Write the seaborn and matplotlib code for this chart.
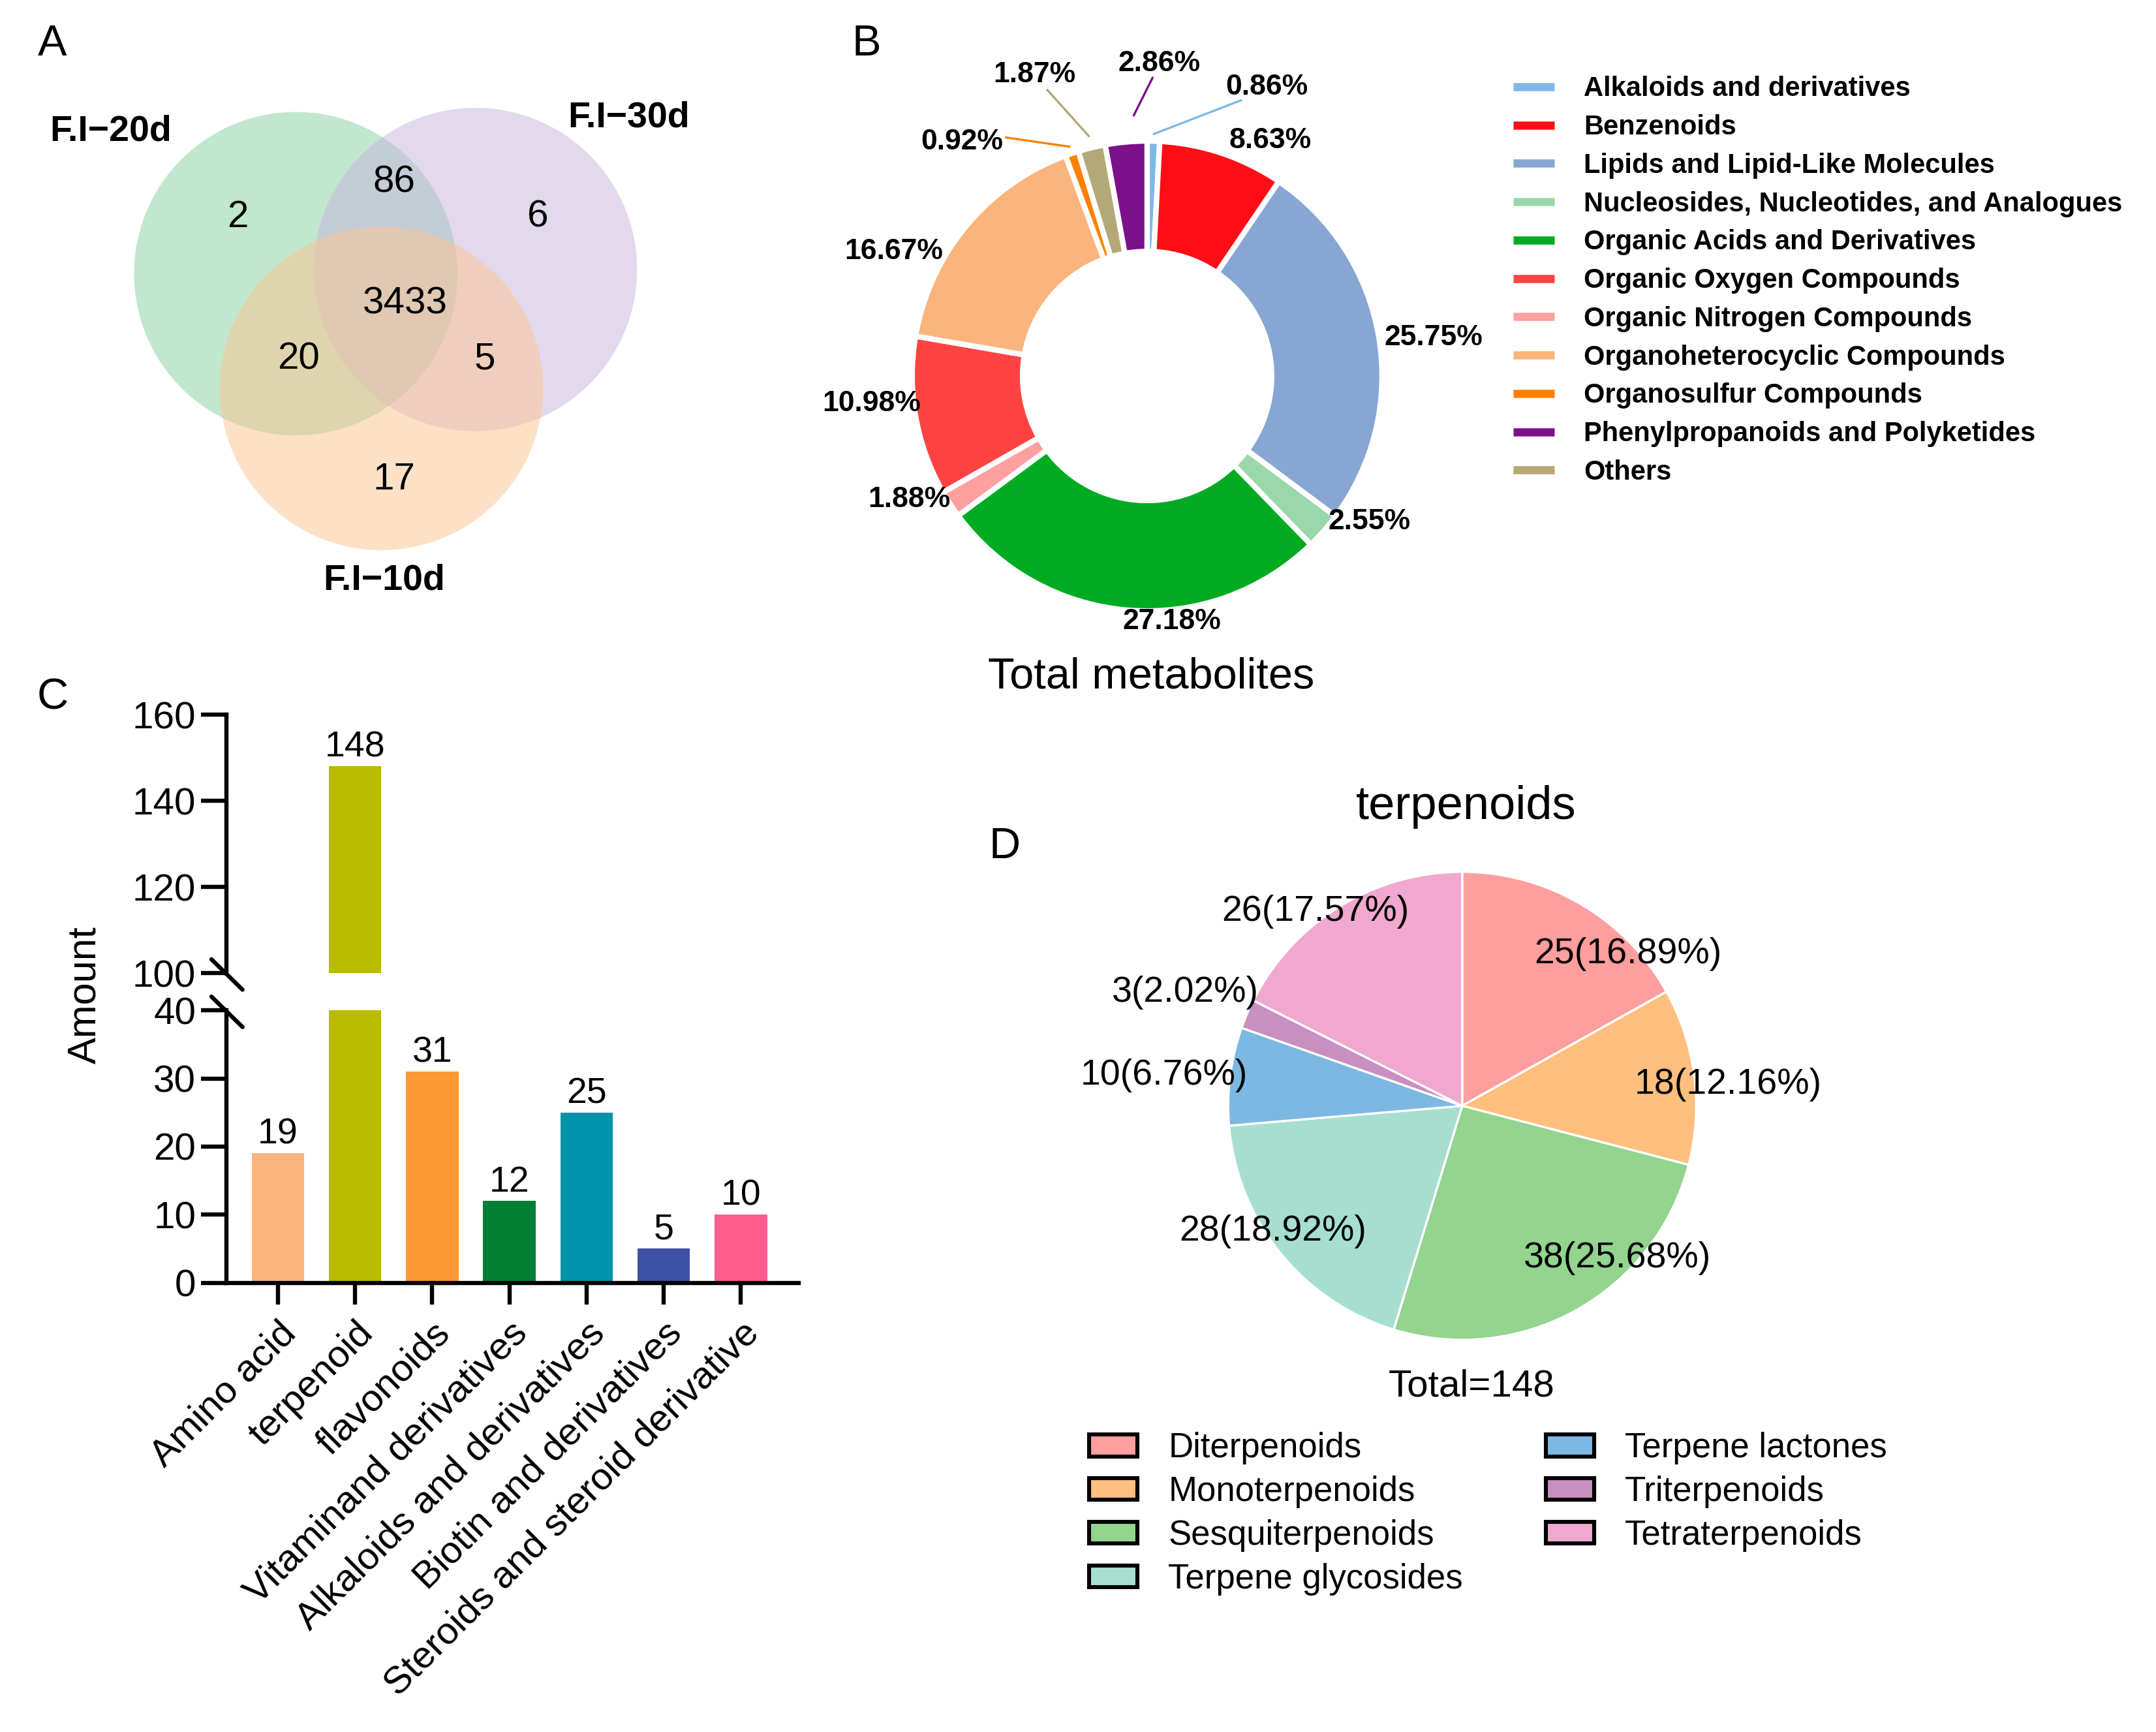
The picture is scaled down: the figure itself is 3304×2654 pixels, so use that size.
import numpy as np
import pandas as pd
import seaborn as sns
import matplotlib.pyplot as plt
from matplotlib.patches import Circle, Patch
from matplotlib.lines import Line2D

# ------------------------------------------------------------
# DATA
# ------------------------------------------------------------
# A : venn of detected metabolites
venn_sets = ["F.I\u221220d", "F.I\u221230d", "F.I\u221210d"]
venn_regions = ["20d", "30d", "10d", "20d&30d", "20d&10d", "30d&10d", "20d&30d&10d"]
venn_counts = [2, 6, 17, 86, 20, 5, 3433]

# B : classes of total metabolites (drawing order of the donut)
class_names = ["Alkaloids and derivatives", "Benzenoids", "Lipids and Lipid-Like Molecules",
               "Nucleosides, Nucleotides, and Analogues", "Organic Acids and Derivatives",
               "Organic Nitrogen Compounds", "Organic Oxygen Compounds",
               "Organoheterocyclic Compounds", "Organosulfur Compounds", "Others",
               "Phenylpropanoids and Polyketides"]
class_pct = [0.86, 8.63, 25.75, 2.55, 27.18, 1.88, 10.98, 16.67, 0.92, 1.87, 2.86]
class_colors = ["#7cb9e8", "#ff0d16", "#87a6d3", "#9ad7aa", "#00ab22", "#ffa0a0",
                "#ff4343", "#fbb57c", "#ff8000", "#b5a877", "#7d108b"]
legend_order = ["Alkaloids and derivatives", "Benzenoids", "Lipids and Lipid-Like Molecules",
                "Nucleosides, Nucleotides, and Analogues", "Organic Acids and Derivatives",
                "Organic Oxygen Compounds", "Organic Nitrogen Compounds",
                "Organoheterocyclic Compounds", "Organosulfur Compounds",
                "Phenylpropanoids and Polyketides", "Others"]

# C : compound groups
comp_names = ["Amino acid", "terpenoid", "flavonoids", "Vitaminand derivatives",
              "Alkaloids and derivatives", "Biotin and derivatives",
              "Steroids and steroid derivative"]
comp_counts = [19, 148, 31, 12, 25, 5, 10]
comp_colors = ["#fbb47e", "#b8bb00", "#ff9933", "#007f35", "#0093ab", "#3f51a5", "#ff5c8d"]

# D : terpenoids
terp_names = ["Diterpenoids", "Monoterpenoids", "Sesquiterpenoids", "Terpene glycosides",
              "Terpene lactones", "Triterpenoids", "Tetraterpenoids"]
terp_counts = [25, 18, 38, 28, 10, 3, 26]
terp_pct = [16.89, 12.16, 25.68, 18.92, 6.76, 2.02, 17.57]
terp_colors = ["#ff9e9e", "#ffbf7f", "#93d48f", "#a6dfd0", "#7cb8e2", "#c98fc0", "#f0a8ce"]

# ------------------------------------------------------------
# FIGURE
# ------------------------------------------------------------
sns.set_style("ticks")
plt.rcParams["font.family"] = ["Liberation Sans", "DejaVu Sans"]
plt.rcParams.update({"text.color": "black", "axes.edgecolor": "black",
                     "axes.labelcolor": "black", "xtick.color": "black",
                     "ytick.color": "black"})

W, H = 1560, 1253  # layout units (square pixels)


def box(x0, y0, x1, y1):
    return [x0 / W, 1 - y1 / H, (x1 - x0) / W, (y1 - y0) / H]


def fxy(x, y):
    return x / W, 1 - y / H


fig = plt.figure(figsize=(16.52, 13.27), dpi=200)

# ------------------------------------------------------------
# A. VENN
# ------------------------------------------------------------
axA = fig.add_axes(box(40, 20, 540, 450))
axA.set_xlim(40, 540)
axA.set_ylim(450, 20)
axA.axis("off")
venn_centers = [(214, 198), (344, 195), (276, 281)]
venn_fill = ["#84d09f", "#c8b5dc", "#fcc490"]
for c, col in zip(venn_centers, venn_fill):
    axA.add_patch(Circle(c, 117, facecolor=col, alpha=0.5, lw=0))
venn_name_xy = [(80, 95), (455, 85), (278, 420)]
for name, (x, y) in zip(venn_sets, venn_name_xy):
    axA.text(x, y, name, fontsize=20, fontweight="bold", ha="center", va="center")
venn_count_xy = [(172, 157), (389, 157), (285, 347), (285, 132), (216, 260), (351, 260), (293, 220)]
for n, (x, y) in zip(venn_counts, venn_count_xy):
    axA.text(x, y, str(n), fontsize=21, ha="center", va="center")

# ------------------------------------------------------------
# B. DONUT
# ------------------------------------------------------------
axB = fig.add_axes(box(830 - 238, 272 - 238, 830 + 238, 272 + 238))
wedges, _ = axB.pie(class_pct, colors=class_colors, startangle=90, counterclock=False,
                    radius=1, wedgeprops=dict(width=0.47, edgecolor="white", linewidth=3))
axB.set_xlim(-1.4, 1.4)
axB.set_ylim(-1.4, 1.4)
axB.axis("off")
# label (angle shift, radius) from each wedge middle
b_lab = [(-21, 1.33), (-9, 1.13), (-2, 1.23), (8, 1.13), (10.5, 1.05), (-5.6, 1.14),
         (-4.2, 1.18), (13.6, 1.2), (19.7, 1.27), (6.9, 1.37), (-7.4, 1.33)]
b_lead = {0: ((0, 1.03), (-17.3, 1.24)), 8: ((0, 1.03), (12, 1.18)),
          9: ((0, 1.05), (5.6, 1.29)), 10: ((-2.2, 1.11), (-6.2, 1.27))}


def polar(a, r):
    return r * np.cos(np.radians(a)), r * np.sin(np.radians(a))


for i, w in enumerate(wedges):
    mid = (w.theta1 + w.theta2) / 2
    da, r = b_lab[i]
    x, y = polar(mid + da, r)
    axB.text(x, y, f"{class_pct[i]:.2f}%", fontsize=16, fontweight="bold",
             ha="center", va="center")
    if i in b_lead:
        (a1, r1), (a2, r2) = b_lead[i]
        p1, p2 = polar(mid + a1, r1), polar(mid + a2, r2)
        axB.plot([p1[0], p2[0]], [p1[1], p2[1]], color=class_colors[i], lw=1.2)
fig.text(*fxy(833, 490), "Total metabolites", fontsize=24, ha="center", va="center")

handlesB = [Line2D([0], [0], color=class_colors[class_names.index(n)], lw=4.5,
                   solid_capstyle="butt") for n in legend_order]
fig.legend(handlesB, legend_order, loc="upper left", bbox_to_anchor=fxy(1095, 55),
           frameon=False, prop=dict(weight="bold", size=15), handlelength=1.5,
           handletextpad=1.1, labelspacing=0.45, borderaxespad=0, borderpad=0)

# ------------------------------------------------------------
# C. BAR CHART WITH BROKEN AXIS
# ------------------------------------------------------------
df_c = pd.DataFrame({"class": comp_names, "count": comp_counts})
axC_top = fig.add_axes(box(164, 517, 578, 704))
axC_bot = fig.add_axes(box(164, 731, 578, 928))
for ax, lo, hi, ticks in [(axC_top, 100, 160, [100, 120, 140, 160]),
                          (axC_bot, 0, 40, [0, 10, 20, 30, 40])]:
    sns.barplot(data=df_c, x="class", y="count", hue="class", palette=comp_colors,
                saturation=1, width=0.68, linewidth=0, legend=False, ax=ax)
    ax.set_xlim(-0.664, 6.75)
    ax.set_ylim(lo, hi)
    ax.set_yticks(ticks)
    ax.set_xlabel("")
    ax.set_ylabel("")
    sns.despine(ax=ax)
    for s in ("left", "bottom"):
        ax.spines[s].set_linewidth(2.3)
    ax.tick_params(axis="y", length=14, width=2.3, labelsize=21, pad=3)
    for cont in ax.containers:
        labs = [f"{int(b.get_height())}" if lo <= b.get_height() <= hi else "" for b in cont]
        ax.bar_label(cont, labels=labs, fontsize=20, padding=1)

axC_top.spines["bottom"].set_visible(False)
axC_top.tick_params(axis="x", bottom=False, labelbottom=False)
axC_bot.set_xticks(range(len(comp_names)))
axC_bot.set_xticklabels(comp_names, rotation=45, ha="right", rotation_mode="anchor")
axC_bot.tick_params(axis="x", length=12, width=2.3, labelsize=21, pad=6)
fig.text(*fxy(62, 720), "Amount", rotation=90, fontsize=22, ha="center", va="center")

# ------------------------------------------------------------
# D. TERPENOIDS PIE
# ------------------------------------------------------------
axD = fig.add_axes(box(1058 - 237, 800 - 237, 1058 + 237, 800 + 237))
wedgesD, _ = axD.pie(terp_counts, colors=terp_colors, startangle=90, counterclock=False,
                     radius=1, wedgeprops=dict(edgecolor="white", linewidth=1.2))
axD.set_xlim(-1.4, 1.4)
axD.set_ylim(-1.4, 1.4)
axD.axis("off")
d_lab = [(-17.1, 0.96), (-2.8, 1.14), (16.3, 0.93), (-5.4, 0.97), (1.5, 1.28),
         (0.9, 1.28), (5.5, 1.04)]
for i, w in enumerate(wedgesD):
    mid = (w.theta1 + w.theta2) / 2
    da, r = d_lab[i]
    x, y = polar(mid + da, r)
    axD.text(x, y, f"{terp_counts[i]}({terp_pct[i]:.2f}%)", fontsize=20,
             ha="center", va="center")
fig.text(*fxy(1061, 584), "terpenoids", fontsize=26, ha="center", va="center")
fig.text(*fxy(1065, 1003), f"Total={sum(terp_counts)}", fontsize=21, ha="center", va="center")

handlesD = [Patch(facecolor=c, edgecolor="black", linewidth=2.2) for c in terp_colors]
fig.legend(handlesD, terp_names, ncol=2, loc="upper left", bbox_to_anchor=fxy(788, 1036),
           frameon=False, fontsize=19, handlelength=1.4, handleheight=0.6,
           handletextpad=0.9, columnspacing=2.4, labelspacing=0.32,
           borderaxespad=0, borderpad=0)

# ------------------------------------------------------------
# OVERLAY : panel letters + axis break marks
# ------------------------------------------------------------
lay = fig.add_axes([0, 0, 1, 1])
lay.set_xlim(0, W)
lay.set_ylim(H, 0)
lay.axis("off")
for letter, (x, y) in zip("ABCD", [(38, 32), (627, 32), (38, 505), (727, 613)]):
    lay.text(x, y, letter, fontsize=24, ha="center", va="center")
lay.plot([153, 175.5], [694, 716], color="black", lw=2.3)
lay.plot([153, 175.5], [721, 743], color="black", lw=2.3)

fig.savefig("out.png", dpi=200)
